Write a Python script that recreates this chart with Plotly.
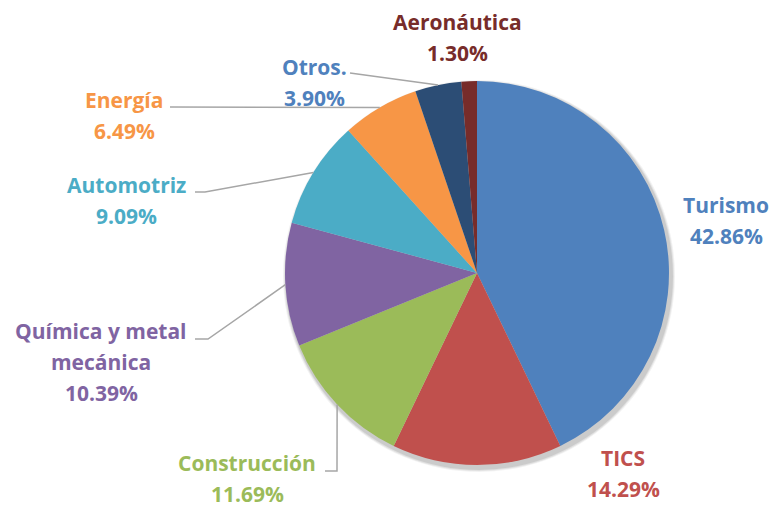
import math
import plotly.graph_objects as go

categories = ["Turismo", "TICS", "Construcción", "Química y metal<br>mecánica",
              "Automotriz", "Energía", "Otros.", "Aeronáutica"]
percentages = [42.86, 14.29, 11.69, 10.39, 9.09, 6.49, 3.90, 1.30]
colors = ["#4F81BD", "#C0504D", "#9BBB59", "#8064A2",
          "#4BACC6", "#F79646", "#2C4D75", "#772C2A"]
label_colors = ["#4F81BD", "#C0504D", "#9BBB59", "#8064A2",
                "#4BACC6", "#F79646", "#4F81BD", "#772C2A"]

W, H = 777, 509
CX, CY, R = 477, 273, 192  # pie centre / radius in pixels

# label positions: x centre and y of first line (pixels)
label_pos = [(726, 205), (623, 458), (247, 463), (101, 331),
             (127, 185), (124, 100), (314, 67), (457, 22)]
LINE = 31.0
leaders = [None, None,
           [(325, 471), (337, 471)],
           [(195, 339), (208, 339)],
           [(195, 192), (205, 192)],
           [(170, 107)],
           [(350, 73)],
           None]

fig = go.Figure()
fig.add_trace(go.Pie(
    labels=categories, values=percentages, sort=False, direction="clockwise",
    rotation=0, textinfo="none", hoverinfo="label+percent",
    marker=dict(colors=colors, line=dict(width=0)),
    domain=dict(x=[(CX - R) / W, (CX + R) / W], y=[1 - (CY + R) / H, 1 - (CY - R) / H]),
    showlegend=False,
))

def px2paper(x, y):
    return x / W, 1 - y / H

shapes = []
# soft shadow
for off, op in [(4, 0.05), (3, 0.07), (2, 0.09)]:
    x0, y0 = px2paper(CX - R - off + 2, CY - R - off + 3)
    x1, y1 = px2paper(CX + R + off + 2, CY + R + off + 3)
    shapes.append(dict(type="circle", xref="paper", yref="paper", x0=x0, y0=y1, x1=x1, y1=y0,
                       fillcolor=f"rgba(0,0,0,{op})", line=dict(width=0), layer="below"))

total = sum(percentages)
cum = 0
annotations = []
for i, v in enumerate(percentages):
    mid = (cum + v / 2) / total * 2 * math.pi
    cum += v
    ex, ey = CX + R * math.sin(mid), CY - R * math.cos(mid)
    if leaders[i]:
        pts = leaders[i] + [(ex, ey)]
        path = "M " + " L ".join(f"{px2paper(x, y)[0]:.5f},{px2paper(x, y)[1]:.5f}" for x, y in pts)
        shapes.append(dict(type="path", xref="paper", yref="paper", path=path,
                           line=dict(color="#A6A6A6", width=1.5)))
    lines = categories[i].split("<br>") + [f"{v:.2f}%"]
    x0, y0 = label_pos[i]
    for j, t in enumerate(lines):
        lx, ly = px2paper(x0, y0 + j * LINE)
        annotations.append(dict(
            x=lx, y=ly, xref="paper", yref="paper", showarrow=False,
            text=f"<b>{t}</b>", align="center", borderpad=0,
            font=dict(family="Open Sans, sans-serif", size=21, color=label_colors[i]),
            xanchor="center", yanchor="middle",
        ))

fig.update_layout(
    width=W, height=H, margin=dict(l=0, r=0, t=0, b=0),
    paper_bgcolor="white", plot_bgcolor="white",
    shapes=shapes, annotations=annotations,
)
fig.write_html("out.html", config={"displayModeBar": False},
               post_script="document.body.style.margin='0';")
